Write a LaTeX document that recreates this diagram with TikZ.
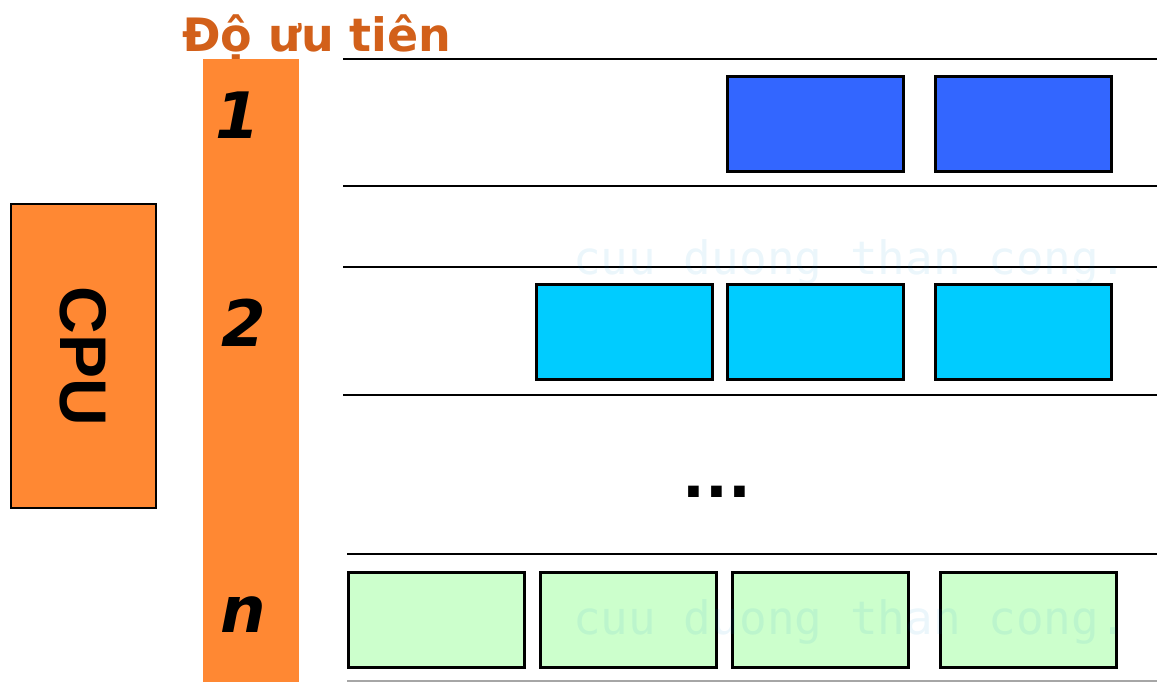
\documentclass[tikz,border=0pt]{standalone}
\usepackage{fontspec}
\setmainfont{DejaVu Sans}
\newfontfamily\wmfont{DejaVu Sans Mono}
\newfontfamily\cpufont{Liberation Sans}
\definecolor{orng}{HTML}{FF8833}
\definecolor{titlec}{HTML}{D2601A}
\definecolor{blueq}{HTML}{3366FF}
\definecolor{cyanq}{HTML}{00CCFF}
\definecolor{greenq}{HTML}{CCFFCC}
\definecolor{wmc}{HTML}{0088CC}
\begin{document}
\begin{tikzpicture}[x=1pt,y=-1pt,
  proc/.style={draw=black,line width=2.8pt,anchor=north west,minimum width=176pt,minimum height=95pt,inner sep=0pt},
  qline/.style={line width=2.6pt,black},
  lbl/.style={font=\fontsize{64}{64}\selectfont\bfseries\itshape,inner sep=0pt},
  wm/.style={font=\wmfont\fontsize{46}{46}\selectfont,text=wmc,text opacity=0.08,inner sep=0pt}]
\useasboundingbox (0,0) rectangle (1157,682);
% title
\node[font=\fontsize{46}{46}\selectfont\bfseries,text=titlec,anchor=base west,inner sep=0pt] (title) at (182,52) {Độ ưu tiên};
% priority column
\fill[orng] (203,59) rectangle (299,682);
\node[lbl] (p1) at (238,115) {1};
\node[lbl] (p2) at (244,323) {2};
\node[lbl] (pn) at (243,615) {n};
% CPU
\node[draw=black,line width=2.4pt,fill=orng,anchor=north west,minimum width=145pt,minimum height=304pt,inner sep=0pt] (cpu) at (10,203) {};
\node[rotate=-90,font=\cpufont\fontsize{66}{66}\selectfont\bfseries,inner sep=0pt] (cputxt) at (cpu.center) {CPU};
% queue lines
\coordinate (l1a) at (343,59);  \coordinate (l1b) at (1157,59);
\coordinate (l2a) at (343,186); \coordinate (l2b) at (1157,186);
\coordinate (l3a) at (343,267); \coordinate (l3b) at (1157,267);
\coordinate (l4a) at (343,395); \coordinate (l4b) at (1157,395);
\coordinate (l5a) at (347,554); \coordinate (l5b) at (1157,554);
\coordinate (l6a) at (347,681); \coordinate (l6b) at (1157,681);
\draw[qline] (l1a) -- (l1b);
\draw[qline] (l2a) -- (l2b);
\draw[qline] (l3a) -- (l3b);
\draw[qline] (l4a) -- (l4b);
\draw[qline] (l5a) -- (l5b);
\draw[line width=1.5pt,gray!70] (l6a) -- (l6b);
% watermark 1
\node[wm,anchor=west] (wm1) at (573,262) {cuu duong than cong.};
% queue 1
\node[proc,fill=blueq] (b1) at (726,75) {};
\node[proc,fill=blueq] (b2) at (934,75) {};
% queue 2
\node[proc,fill=cyanq] (c1) at (535,283) {};
\node[proc,fill=cyanq] (c2) at (726,283) {};
\node[proc,fill=cyanq] (c3) at (934,283) {};
% dots
\node[font=\fontsize{60}{60}\selectfont\bfseries,inner sep=0pt,anchor=base] (dots) at (717,497) {...};
% queue n
\node[proc,fill=greenq] (g1) at (347,571) {};
\node[proc,fill=greenq] (g2) at (539,571) {};
\node[proc,fill=greenq] (g3) at (731,571) {};
\node[proc,fill=greenq] (g4) at (939,571) {};
\node[wm,anchor=west] (wm2) at (573,622) {cuu duong than cong.};
\end{tikzpicture}
\end{document}
